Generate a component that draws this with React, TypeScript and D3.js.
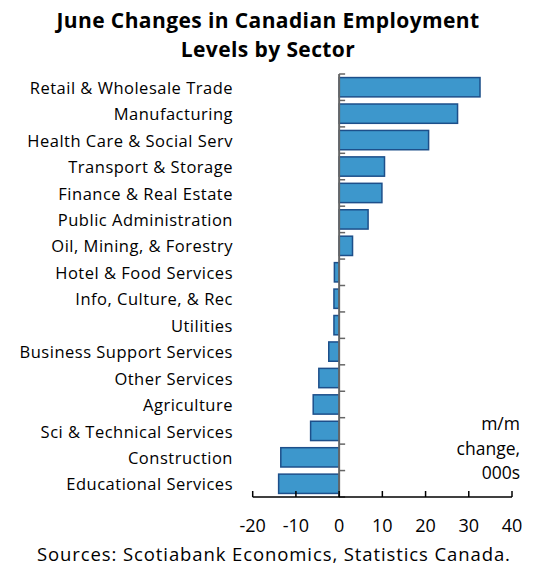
import React from "react";
import * as d3 from "d3";

const categories = [
  "Retail & Wholesale Trade",
  "Manufacturing",
  "Health Care & Social Serv",
  "Transport & Storage",
  "Finance & Real Estate",
  "Public Administration",
  "Oil, Mining, & Forestry",
  "Hotel & Food Services",
  "Info, Culture, & Rec",
  "Utilities",
  "Business Support Services",
  "Other Services",
  "Agriculture",
  "Sci & Technical Services",
  "Construction",
  "Educational Services",
];
const values = [32.6, 27.4, 20.7, 10.5, 9.9, 6.7, 3.1, -1.1, -1.2, -1.2, -2.4, -4.7, -6.0, -6.6, -13.5, -14.0];
const xTicks = [-20, -10, 0, 10, 20, 30, 40];
const titleLines = ["June Changes in Canadian Employment", "Levels by Sector"];
const unitLines = ["m/m", "change,", "000s"];
const sourceText = "Sources: Scotiabank Economics, Statistics Canada.";

const W = 536;
const H = 565;
const font = "'Open Sans', 'Noto Sans', sans-serif";

export default function App() {
  const x = d3.scaleLinear().domain([-20, 40]).range([252.7, 512]);
  const yTop = 74;
  const yBot = 497;
  const y = d3.scaleBand().domain(categories).range([yTop, yBot]).paddingInner(0.27).paddingOuter(0.135);
  const bandStep = (yBot - yTop) / categories.length;
  const axisY = 497;
  const x0 = x(0);

  return (
    <div style={{ position: "absolute", left: 0, top: 0 }}>
      <svg width={W} height={H} style={{ display: "block", background: "#fff" }}>
        <text textAnchor="middle" fontFamily={font} fontWeight={700} fontSize={21} letterSpacing={0.4} fill="#000">
          {titleLines.map((t, i) => (
            <tspan key={t} x={268} y={28.3 + i * 28.8}>
              {t}
            </tspan>
          ))}
        </text>

        {categories.map((c, i) => {
          const v = values[i];
          const yy = y(c)!;
          return (
            <g key={c}>
              <rect
                x={Math.min(x(v), x0)}
                y={yy}
                width={Math.abs(x(v) - x0)}
                height={y.bandwidth()}
                fill="#3d97cc"
                stroke="#1d4f8a"
                strokeWidth={1.5}
              />
              <text
                x={233}
                y={yy + y.bandwidth() / 2}
                dy="0.4em"
                textAnchor="end"
                fontFamily={font}
                fontSize={16.5}
                letterSpacing={0.5}
                fill="#000"
              >
                {c}
              </text>
            </g>
          );
        })}

        {/* y axis ticks */}
        {d3.range(categories.length + 1).map((i) => {
          const ty = yTop + i * bandStep;
          return <line key={i} x1={x0} x2={x0 + 6} y1={ty} y2={ty} stroke="#666" strokeWidth={1.5} />;
        })}
        <line x1={x0} x2={x0} y1={yTop} y2={axisY} stroke="#666" strokeWidth={2} />

        {/* x axis */}
        <line x1={x(-20)} x2={x(40)} y1={axisY} y2={axisY} stroke="#000" strokeWidth={1.5} />
        {xTicks.map((t) => (
          <g key={t}>
            <line x1={x(t)} x2={x(t)} y1={axisY} y2={axisY - 6} stroke="#000" strokeWidth={1.5} />
            <text x={x(t)} y={532} textAnchor="middle" fontFamily={font} fontSize={18} fill="#000">
              {t}
            </text>
          </g>
        ))}

        <text textAnchor="end" fontFamily={font} fontSize={17.5} fill="#000">
          {unitLines.map((t, i) => (
            <tspan key={t} x={520} y={430 + i * 24.5}>
              {t}
            </tspan>
          ))}
        </text>

        <text x={37} y={561} fontFamily={font} fontSize={18.5} letterSpacing={0.9} fill="#000">
          {sourceText}
        </text>
      </svg>
    </div>
  );
}
